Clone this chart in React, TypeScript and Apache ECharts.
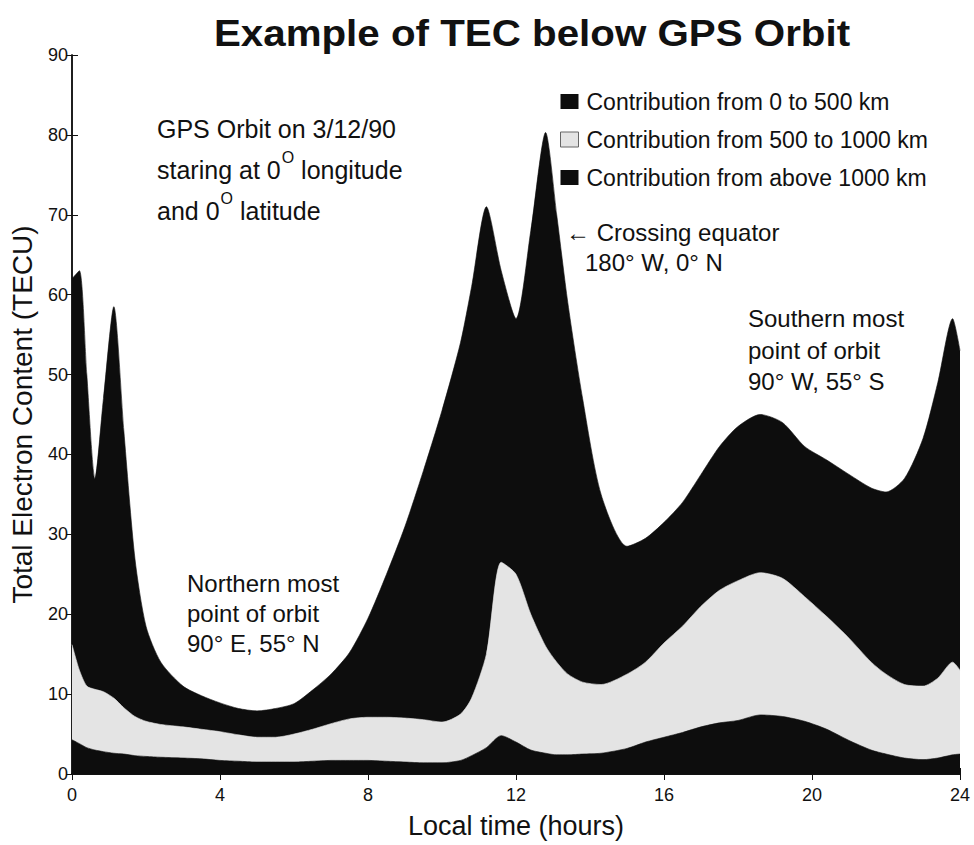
import React, { useEffect, useRef } from "react";
import * as echarts from "echarts";

// Local time (hours) sample positions
const hours = [
  0, 0.2, 0.4, 0.62, 0.85, 1.13, 1.4, 1.7, 2.0, 2.4, 3.0, 3.5, 4.0, 4.5, 5.0, 5.5, 6.0, 6.5, 7.0, 7.5,
  8.0, 8.5, 9.0, 9.5, 10.0, 10.5, 10.8, 11.2, 11.6, 12.0, 12.4, 12.8, 13.1, 13.4, 13.8, 14.3, 15.0, 15.5,
  16.0, 16.5, 17.0, 17.5, 18.0, 18.6, 19.2, 19.8, 20.4, 21.0, 21.6, 22.0, 22.5, 23.0, 23.4, 23.8, 24.0,
];

// Cumulative TEC up to 500 km (TECU)
const upTo500 = [
  4.3, 3.8, 3.3, 3.0, 2.8, 2.6, 2.5, 2.3, 2.2, 2.1, 2.0, 1.9, 1.7, 1.6, 1.5, 1.5, 1.5, 1.6, 1.7, 1.7,
  1.7, 1.6, 1.5, 1.4, 1.4, 1.7, 2.3, 3.3, 4.8, 4.0, 3.0, 2.6, 2.4, 2.4, 2.5, 2.6, 3.2, 4.0,
  4.6, 5.2, 5.9, 6.4, 6.7, 7.4, 7.2, 6.6, 5.6, 4.2, 3.0, 2.5, 2.0, 1.8, 2.0, 2.4, 2.5,
];

// Cumulative TEC up to 1000 km (TECU)
const upTo1000 = [
  16.2, 13, 11, 10.6, 10.3, 9.5, 8.3, 7.2, 6.6, 6.2, 5.9, 5.6, 5.3, 4.9, 4.6, 4.6, 5.0, 5.6, 6.3, 6.9,
  7.1, 7.1, 7.0, 6.8, 6.5, 7.5, 9.5, 15, 26.5, 25, 20, 16, 14, 12.5, 11.5, 11.2, 12.5, 14,
  16.4, 18.5, 21, 23, 24.2, 25.2, 24.5, 22.2, 19.7, 17, 14, 12.5, 11.2, 11, 12, 14, 13,
];

// Total TEC below GPS orbit (TECU)
const totalTEC = [
  62, 63, 50, 37, 47, 58.5, 43, 27, 18.5, 14, 11, 9.8, 8.9, 8.2, 7.9, 8.2, 8.8, 10.5, 12.5, 15.2,
  19.5, 25, 31, 38, 45.5, 54, 61, 71, 63, 57, 68, 80.3, 70, 59, 47, 35, 28.5, 29.5,
  31.5, 34, 37.5, 41, 43.5, 45, 44, 41, 39.3, 37.5, 35.8, 35.3, 37, 42, 49, 57, 53,
];

const legendNames = [
  "Contribution from 0 to 500 km",
  "Contribution from 500 to 1000 km",
  "Contribution from above 1000 km",
];

const xTicks = [0, 4, 8, 12, 16, 20, 24];
const yTicks = [0, 10, 20, 30, 40, 50, 60, 70, 80, 90];

const FONT = "'Liberation Sans', Arial, Helvetica, sans-serif";
const BLACK = "#0d0d0d";
const LIGHT = "#e4e4e4";

export default function App() {
  const ref = useRef<HTMLDivElement>(null);

  useEffect(() => {
    if (!ref.current) return;
    const chart = echarts.init(ref.current, undefined, { renderer: "svg" });

    const pairs = (arr: number[]) => hours.map((h, i) => [h, arr[i]]);
    const xMin = xTicks[0];
    const xMax = xTicks[xTicks.length - 1];
    const yMin = yTicks[0];
    const yMax = yTicks[yTicks.length - 1];

    const areaSeries = (name: string, data: number[], color: string, z: number) => ({
      name,
      type: "line",
      data: pairs(data),
      xAxisIndex: 0,
      yAxisIndex: 0,
      showSymbol: false,
      symbol: "none",
      smooth: 0.25,
      color,
      itemStyle: { color },
      lineStyle: { width: 0.6, color },
      areaStyle: { color, opacity: 1 },
      z,
      silent: true,
    });

    const textEl = (text: string, left: number, top: number, size: number, extra: any = {}) => ({
      type: "text",
      left,
      top,
      style: {
        text,
        fill: "#111",
        font: `${size}px ${FONT}`,
        ...extra,
      },
      z: 100,
    });

    const axisCommon = {
      min: yMin,
      max: yMax,
      interval: 10,
    };

    chart.setOption({
      animation: false,
      backgroundColor: "#ffffff",
      grid: { left: 72, right: 14, top: 55, bottom: 71, containLabel: false },
      legend: {
        show: true,
        orient: "vertical",
        left: 555,
        top: 85,
        icon: "rect",
        itemWidth: 18,
        itemHeight: 15,
        itemGap: 15,
        selectedMode: false,
        textStyle: { fontSize: 23, color: "#111", fontFamily: FONT, padding: [0, 0, 0, 3] },
        data: [
          { name: legendNames[0] },
          { name: legendNames[1], itemStyle: { borderColor: "#666", borderWidth: 1 } },
          { name: legendNames[2] },
        ],
      },
      xAxis: [
        {
          type: "value",
          min: xMin,
          max: xMax,
          interval: 4,
          position: "bottom",
          name: "Local time (hours)",
          nameLocation: "middle",
          nameGap: 38,
          nameTextStyle: { fontSize: 27, color: "#111", fontFamily: FONT },
          axisLine: { show: true, lineStyle: { color: "#111", width: 1.5 } },
          axisTick: { show: true, inside: true, length: 6, lineStyle: { color: "#111" } },
          axisLabel: { fontSize: 18, color: "#111", fontFamily: FONT, margin: 12 },
          splitLine: { show: false },
        },
        {
          type: "value",
          min: xMin,
          max: xMax,
          interval: 4,
          position: "top",
          axisLine: { show: true, lineStyle: { color: "#111", width: 1.8 } },
          axisTick: { show: true, inside: true, length: 6, lineStyle: { color: "#111" } },
          axisLabel: { show: false },
          splitLine: { show: false },
        },
      ],
      yAxis: [
        {
          type: "value",
          ...axisCommon,
          position: "left",
          name: "Total Electron Content (TECU)",
          nameLocation: "middle",
          nameGap: 36,
          nameTextStyle: { fontSize: 28, color: "#111", fontFamily: FONT },
          axisLine: { show: true, lineStyle: { color: "#111", width: 1.5 } },
          axisTick: { show: true, inside: true, length: 6, lineStyle: { color: "#111" } },
          axisLabel: { fontSize: 18, color: "#111", fontFamily: FONT, margin: 4 },
          splitLine: { show: false },
        },
        {
          type: "value",
          ...axisCommon,
          position: "right",
          axisLine: { show: true, lineStyle: { color: "#111", width: 1.5 } },
          axisTick: { show: true, inside: true, length: 6, lineStyle: { color: "#111" } },
          axisLabel: { show: false },
          splitLine: { show: false },
        },
      ],
      series: [
        areaSeries(legendNames[2], totalTEC, BLACK, 2),
        areaSeries(legendNames[1], upTo1000, LIGHT, 3),
        areaSeries(legendNames[0], upTo500, BLACK, 4),
      ],
      graphic: [
        {
          type: "text",
          x: 532,
          y: 33,
          style: {
            text: "Example of TEC below GPS Orbit",
            fill: "#111",
            font: `bold 37px ${FONT}`,
            align: "center",
            verticalAlign: "middle",
          },
          scaleX: 1.09,
          originX: 0,
          originY: 0,
          z: 100,
        },
        {
          type: "text",
          left: 157,
          top: 116,
          style: {
            text:
              "{a|GPS Orbit on 3/12/90}\n{a|staring at 0}{s|O}{a| longitude}\n{a|and 0}{s|O}{a| latitude}",
            fill: "#111",
            rich: {
              a: { fontSize: 25, fontFamily: FONT, lineHeight: 41, fill: "#111" },
              s: {
                fontSize: 16,
                fontFamily: FONT,
                lineHeight: 41,
                fill: "#111",
                verticalAlign: "top",
                padding: [0, 0, 0, 1],
              },
            },
          },
          z: 100,
        },
        textEl("\u2190 Crossing equator", 566, 220, 24),
        textEl("180\u00b0 W, 0\u00b0 N", 585, 250, 24),
        textEl("Southern most\npoint of orbit\n90\u00b0 W, 55\u00b0 S", 748, 303, 24, { lineHeight: 31.5 }),
        textEl("Northern most\npoint of orbit\n90\u00b0 E, 55\u00b0 N", 187, 568, 24, { lineHeight: 30 }),
      ],
    });

    return () => chart.dispose();
  }, []);

  return (
    <div
      ref={ref}
      style={{ position: "fixed", left: 0, top: 0, width: 974, height: 845, background: "#fff" }}
    />
  );
}
